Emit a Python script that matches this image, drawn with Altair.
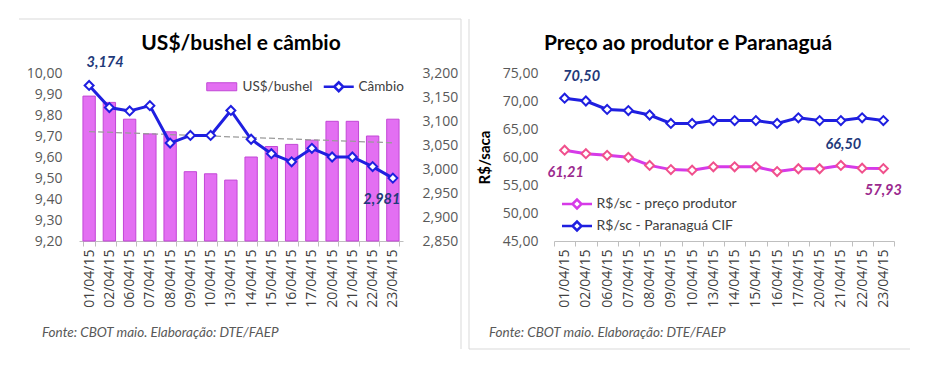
import altair as alt
import pandas as pd

# ---------------- data ----------------
dates = ["01/04/15", "02/04/15", "06/04/15", "07/04/15", "08/04/15", "09/04/15",
         "10/04/15", "13/04/15", "14/04/15", "15/04/15", "16/04/15", "17/04/15",
         "20/04/15", "21/04/15", "22/04/15", "23/04/15"]
bushel = [9.89, 9.86, 9.78, 9.71, 9.72, 9.53, 9.52, 9.49, 9.60, 9.65, 9.66, 9.68,
          9.77, 9.77, 9.70, 9.78]
cambio = [3.174, 3.128, 3.121, 3.132, 3.054, 3.070, 3.070, 3.122, 3.062, 3.032,
          3.015, 3.043, 3.025, 3.025, 3.005, 2.981]
produtor = [61.21, 60.60, 60.30, 59.95, 58.50, 57.75, 57.65, 58.25, 58.25, 58.25,
            57.40, 57.90, 57.90, 58.50, 58.00, 57.93]
paranagua = [70.50, 70.00, 68.50, 68.30, 67.50, 66.00, 66.00, 66.50, 66.50, 66.50,
             66.00, 67.00, 66.50, 66.50, 67.00, 66.50]

left_ticks = [9.2, 9.3, 9.4, 9.5, 9.6, 9.7, 9.8, 9.9, 10.0]
right_ticks = [2.85, 2.9, 2.95, 3.0, 3.05, 3.1, 3.15, 3.2]
price_ticks = [45, 50, 55, 60, 65, 70, 75]

title_left = "US$/bushel e câmbio"
title_right = "Preço ao produtor e Paranaguá"
source = "Fonte: CBOT maio. Elaboração: DTE/FAEP"
s_bushel = "US$/bushel"
s_cambio = "Câmbio"
s_prod = "R$/sc - preço produtor"
s_para = "R$/sc - Paranaguá CIF"

df = pd.DataFrame({"date": dates, "idx": list(range(len(dates))),
                   "bushel": bushel, "cambio": cambio,
                   "produtor": produtor, "paranagua": paranagua})
idx_lookup = alt.InlineData(values=[{"idx": i, "date": d} for i, d in enumerate(dates)])

# ---------------- style ----------------
FONT = "Lato"
NUMFONT = "Open Sans"
W1, W2, H = 324, 340, 168
BAR = "#E36FF2"
BAR_EDGE = "#C247D6"
BLUE = "#1F1FE0"
MAGENTA = "#D63AE8"
PINK = "#F0508C"
LBL_BLUE = "#1F3A7A"
LBL_PURP = "#9B2A8E"
GRID = "#BFBFBF"
TXT = "#595959"
FRAME = "#D9D9D9"

LINE_SYM = "M-3,0H-0.9M0.9,0H3M-0.9,0L0,-0.9L0.9,0L0,0.9Z"
BAR_SYM = "M-3,-0.8H3V0.8H-3Z"


def x_axis():
    return alt.Axis(title=None, labelAngle=-90, tickBand="extent", domainColor=GRID,
                    tickColor=GRID, tickSize=5, labelPadding=3, labelFontSize=14,
                    labelFont=NUMFONT, labelColor="#404040", grid=False)


def xenc(pi):
    return alt.X("date:N", sort=dates,
                 scale=alt.Scale(type="band", paddingInner=pi, paddingOuter=pi / 2),
                 axis=x_axis())


def yaxis(orient, values, fmt, pad, title=None):
    kw = dict(orient=orient, values=values, format=fmt, domain=False, ticks=False,
              grid=False, labelPadding=pad, labelFontSize=14, labelFont=NUMFONT,
              labelColor=TXT)
    if title is None:
        kw["title"] = None
    else:
        kw.update(title=title, titleFontSize=15, titleFontWeight="bold",
                  titleColor="#000000", titlePadding=10, titleFont=FONT)
    return alt.Axis(**kw)


def one(text):
    return alt.Chart(pd.DataFrame({"t": [text]}))


def rule(x, x2, y, y2):
    return one("r").mark_rule(color=FRAME, strokeWidth=1).encode(
        x=alt.value(x), x2=alt.value(x2), y=alt.value(y), y2=alt.value(y2))


def title_mark(text, x):
    return one(text).mark_text(fontSize=21, fontWeight="bold", color="#000000",
                               baseline="middle", align="center").encode(
        text="t:N", x=alt.value(x), y=alt.value(-29))


def source_mark(x):
    return one(source).mark_text(fontSize=13.5, fontStyle="italic", color=TXT,
                                 baseline="middle", align="left").encode(
        text="t:N", x=alt.value(x), y=alt.value(260))


# ---------------- left panel ----------------
xl = xenc(0.39)
xr = xenc(0.0)
ysc_b = alt.Scale(domain=[9.2, 10.0])
ysc_c = alt.Scale(domain=[2.85, 3.2])
ysc_p = alt.Scale(domain=[45, 75])
ax_b = yaxis("left", left_ticks, ",.2f", 17)
ax_c = yaxis("right", right_ticks, ".3f", 19)
ax_p = yaxis("left", price_ticks, ".2f", 16, title="R$/saca")

bars = alt.Chart(df).transform_calculate(sb=f"'{s_bushel}'").mark_bar(
    stroke=BAR_EDGE, strokeWidth=1).encode(
    x=xl,
    y=alt.Y("bushel:Q", scale=ysc_b, axis=ax_b),
    y2=alt.datum(9.2),
    fill=alt.Fill("sb:N", scale=alt.Scale(domain=[s_bushel], range=[BAR]),
                  legend=alt.Legend(title=None, orient="none", legendX=136, legendY=7,
                                    symbolType=BAR_SYM, symbolSize=100,
                                    symbolStrokeColor=BAR_EDGE, symbolStrokeWidth=1,
                                    labelOffset=14, labelFontSize=13.5,
                                    labelColor="#404040", padding=0)),
)

trend = alt.Chart(df).transform_regression("idx", "bushel").transform_lookup(
    lookup="idx", from_=alt.LookupData(data=idx_lookup, key="idx", fields=["date"])
).mark_line(strokeDash=[6, 3], color="#9A9A9A", strokeWidth=1.3).encode(
    x=xl, y=alt.Y("bushel:Q", scale=ysc_b, axis=ax_b))

cam_line = alt.Chart(df).transform_calculate(sc=f"'{s_cambio}'").mark_line(
    strokeWidth=3).encode(
    x=xl,
    y=alt.Y("cambio:Q", scale=ysc_c, axis=ax_c),
    stroke=alt.Stroke("sc:N", scale=alt.Scale(domain=[s_cambio], range=[BLUE]),
                      legend=alt.Legend(title=None, orient="none", legendX=253,
                                        legendY=7, symbolType=LINE_SYM, symbolSize=100,
                                        symbolStrokeWidth=2.5, symbolFillColor="white",
                                        labelOffset=13, labelFontSize=13.5,
                                        labelColor="#404040", padding=0)),
)

cam_pts = alt.Chart(df).mark_point(shape="diamond", filled=True, fill="white",
                                   stroke=BLUE, strokeWidth=2, size=80,
                                   opacity=1).encode(
    x=xl, y=alt.Y("cambio:Q", scale=ysc_c, axis=ax_c))


def vlabel(field, date, fmt, xenc_, sc, ax, dx, dy, color):
    return alt.Chart(df).transform_filter(alt.datum.date == date).mark_text(
        dx=dx, dy=dy, fontSize=14.5, fontWeight="bold", fontStyle="italic",
        color=color).encode(
        x=xenc_,
        y=alt.Y(f"{field}:Q", scale=sc, axis=ax),
        text=alt.Text(f"{field}:Q", format=fmt))


lab_c1 = vlabel("cambio", dates[0], ".3f", xl, ysc_c, ax_c, 16, -22, LBL_BLUE)
lab_c2 = vlabel("cambio", dates[-1], ".3f", xl, ysc_c, ax_c, -11, 22, LBL_BLUE)

left_deco = alt.layer(
    rule(-60, 382, -54, -54), rule(382, 382, -54, 276),
    title_mark(title_left, 162), source_mark(-37))

bar_group = alt.layer(bars, trend)
cam_group = alt.layer(cam_line, cam_pts, lab_c1, lab_c2)

left = alt.layer(bar_group, cam_group, left_deco).resolve_scale(
    y="independent").properties(width=W1, height=H)

# ---------------- right panel ----------------
long_base = alt.Chart(df).transform_fold(["produtor", "paranagua"], as_=["k", "v"]) \
    .transform_calculate(serie=f"datum.k == 'produtor' ? '{s_prod}' : '{s_para}'")

p_lines = long_base.mark_line(strokeWidth=3).encode(
    x=xr,
    y=alt.Y("v:Q", scale=ysc_p, axis=ax_p),
    stroke=alt.Stroke("serie:N",
                      scale=alt.Scale(domain=[s_prod, s_para], range=[MAGENTA, BLUE]),
                      legend=alt.Legend(title=None, orient="none", legendX=16,
                                        legendY=124, direction="vertical",
                                        symbolType=LINE_SYM, symbolSize=100,
                                        symbolStrokeWidth=2.5, symbolFillColor="white",
                                        labelOffset=12.5, labelFontSize=14,
                                        labelColor="#404040", rowPadding=2,
                                        padding=0)),
    detail="serie:N",
)

p_pts = long_base.mark_point(shape="diamond", filled=True, fill="white",
                             strokeWidth=2, size=80, opacity=1).encode(
    x=xr, y=alt.Y("v:Q", scale=ysc_p, axis=ax_p),
    stroke=alt.condition(alt.datum.k == "produtor", alt.value(PINK), alt.value(BLUE)),
)

lab_p1 = vlabel("paranagua", dates[0], ".2f", xr, ysc_p, ax_p, 17, -21, LBL_BLUE)
lab_p2 = vlabel("paranagua", dates[-1], ".2f", xr, ysc_p, ax_p, -40, 24, LBL_BLUE)
lab_r1 = vlabel("produtor", dates[0], ".2f", xr, ysc_p, ax_p, 1, 23, LBL_PURP)
lab_r2 = vlabel("produtor", dates[-1], ".2f", xr, ysc_p, ax_p, 0, 22, LBL_PURP)

right_deco = alt.layer(
    rule(-85, -85, -54, 276), rule(-85, 356, 276, 276),
    title_mark(title_right, 134), source_mark(-65))

right = alt.layer(p_lines, p_pts, lab_p1, lab_p2, lab_r1, lab_r2, right_deco) \
    .properties(width=W2, height=H)

chart = alt.hconcat(left, right, spacing=6).resolve_scale(
    stroke="independent", fill="independent"
).resolve_legend(
    stroke="independent", fill="independent"
).properties(
    padding={"left": 10, "top": 10, "right": 5, "bottom": 5}
).configure(
    font=FONT,
    locale={"number": {"decimal": ",", "thousands": ".", "grouping": [3],
                       "currency": ["R$", ""]}},
).configure_view(stroke=None)

chart.save("out.html", embed_options={"renderer": "svg", "actions": False})
